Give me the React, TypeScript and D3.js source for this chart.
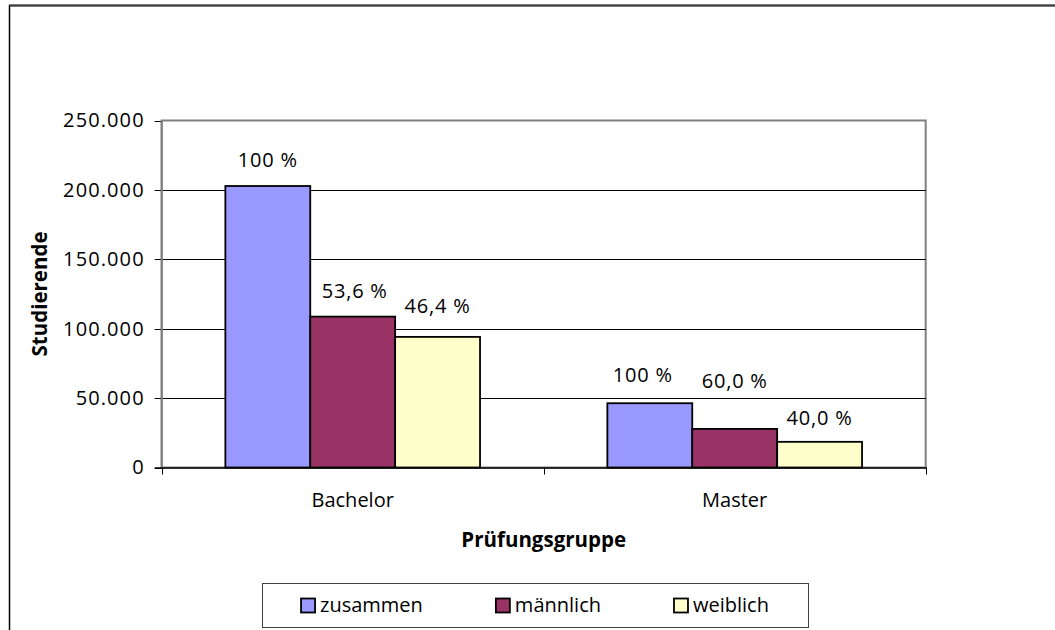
import React, { useEffect, useRef } from "react";
import * as d3 from "d3";

const categories = ["Bachelor", "Master"];
const seriesNames = ["zusammen", "männlich", "weiblich"];
const zusammen = [202800, 46300];
const maennlich = [108700, 27800];
const weiblich = [94100, 18500];
const labelsZusammen = ["100 %", "100 %"];
const labelsMaennlich = ["53,6 %", "60,0 %"];
const labelsWeiblich = ["46,4 %", "40,0 %"];
const yTicks = [0, 50000, 100000, 150000, 200000, 250000];
const seriesColors = ["#9999FF", "#993366", "#FFFFCC"];
const yTitle = "Studierende";
const xTitle = "Prüfungsgruppe";

// label nudges (dx, extra lift) per series per category, mimicking manual placement
const labelNudge = [
  [[0, 0], [-7, 2]],
  [[2, 0], [0, 22]],
  [[0, 5], [0, -2]],
];

const W = 1055;
const H = 630;
const FONT = "'Open Sans', 'Noto Sans', sans-serif";

export default function App() {
  const ref = useRef<SVGSVGElement | null>(null);

  useEffect(() => {
    const svg = d3.select(ref.current);
    svg.selectAll("*").remove();

    const left = 161.7, right = 925.7, top = 120.5, bottom = 467.5;
    const values = [zusammen, maennlich, weiblich];
    const labels = [labelsZusammen, labelsMaennlich, labelsWeiblich];

    const x0 = d3.scaleBand<string>().domain(categories).range([left, right]).padding(0);
    const x1 = d3
      .scaleBand<string>()
      .domain(seriesNames)
      .range([0, x0.bandwidth()])
      .paddingInner(0)
      .paddingOuter(0.75);
    const y = d3.scaleLinear().domain([0, 250000]).range([bottom, top]);

    const de = d3.formatLocale({
      decimal: ",",
      thousands: ".",
      grouping: [3],
      currency: ["", " €"],
    });
    const fmt = de.format(",.0f");

    // outer chart frame (extends past the picture on right and bottom)
    svg
      .append("rect")
      .attr("x", 9.5)
      .attr("y", 5.5)
      .attr("width", 1200)
      .attr("height", 800)
      .attr("fill", "white")
      .attr("stroke", "#000")
      .attr("stroke-width", 1.5);
    svg
      .append("line")
      .attr("x1", 9.5)
      .attr("x2", W)
      .attr("y1", 5.5)
      .attr("y2", 5.5)
      .attr("stroke", "#3c3c3c")
      .attr("stroke-width", 2);

    // plot area
    svg
      .append("rect")
      .attr("x", left)
      .attr("y", top)
      .attr("width", right - left)
      .attr("height", bottom - top)
      .attr("fill", "white")
      .attr("stroke", "#808080")
      .attr("stroke-width", 2);

    // gridlines
    svg
      .append("g")
      .selectAll("line")
      .data(yTicks.filter((t) => t > 0 && t < 250000))
      .join("line")
      .attr("x1", left)
      .attr("x2", right)
      .attr("y1", (d) => Math.round(y(d)) + 0.5)
      .attr("y2", (d) => Math.round(y(d)) + 0.5)
      .attr("stroke", "#000")
      .attr("stroke-width", 1);

    // y axis ticks + labels
    const yg = svg.append("g");
    yg.selectAll("line")
      .data(yTicks)
      .join("line")
      .attr("x1", left - 7)
      .attr("x2", left)
      .attr("y1", (d) => Math.round(y(d)) + 0.5)
      .attr("y2", (d) => Math.round(y(d)) + 0.5)
      .attr("stroke", "#000")
      .attr("stroke-width", 1);
    yg.selectAll("text")
      .data(yTicks)
      .join("text")
      .attr("x", left - 17)
      .attr("y", (d) => y(d))
      .attr("dy", "0.34em")
      .attr("text-anchor", "end")
      .attr("font-family", FONT)
      .attr("font-size", 20)
      .attr("letter-spacing", 1.1)
      .attr("fill", "#000")
      .text((d) => fmt(d));

    // bars
    seriesNames.forEach((s, si) => {
      const g = svg.append("g");
      g.selectAll("rect")
        .data(categories)
        .join("rect")
        .attr("x", (c) => (x0(c) as number) + (x1(s) as number))
        .attr("y", (c, i) => y(values[si][i]))
        .attr("width", x1.bandwidth())
        .attr("height", (c, i) => bottom - y(values[si][i]))
        .attr("fill", seriesColors[si])
        .attr("stroke", "#000")
        .attr("stroke-width", 1.8);
    });

    // axis lines
    svg
      .append("line")
      .attr("x1", left)
      .attr("x2", left)
      .attr("y1", top)
      .attr("y2", bottom)
      .attr("stroke", "#808080")
      .attr("stroke-width", 2);
    svg
      .append("line")
      .attr("x1", left - 7)
      .attr("x2", right + 1)
      .attr("y1", bottom + 0.5)
      .attr("y2", bottom + 0.5)
      .attr("stroke", "#000")
      .attr("stroke-width", 1.5);

    // x axis ticks at category boundaries
    const bounds = [left, ...categories.map((c) => (x0(c) as number) + x0.bandwidth())];
    svg
      .append("g")
      .selectAll("line")
      .data(bounds)
      .join("line")
      .attr("x1", (d) => Math.round(d) + 0.5)
      .attr("x2", (d) => Math.round(d) + 0.5)
      .attr("y1", bottom)
      .attr("y2", bottom + 7)
      .attr("stroke", "#000")
      .attr("stroke-width", 1);

    // category labels
    svg
      .append("g")
      .selectAll("text")
      .data(categories)
      .join("text")
      .attr("x", (c) => (x0(c) as number) + x0.bandwidth() / 2)
      .attr("y", bottom + 39)
      .attr("text-anchor", "middle")
      .attr("font-family", FONT)
      .attr("font-size", 20)
      .attr("fill", "#000")
      .text((c) => c);

    // data labels
    seriesNames.forEach((s, si) => {
      svg
        .append("g")
        .selectAll("text")
        .data(categories)
        .join("text")
        .attr(
          "x",
          (c, i) =>
            (x0(c) as number) + (x1(s) as number) + x1.bandwidth() / 2 + labelNudge[si][i][0]
        )
        .attr("y", (c, i) => y(values[si][i]) - 19 - labelNudge[si][i][1])
        .attr("text-anchor", "middle")
        .attr("font-family", FONT)
        .attr("font-size", 20)
        .attr("letter-spacing", 0.8)
        .attr("fill", "#000")
        .text((c, i) => labels[si][i]);
    });

    // axis titles
    svg
      .append("text")
      .attr("transform", `translate(46.5, ${(top + bottom) / 2}) rotate(-90)`)
      .attr("text-anchor", "middle")
      .attr("font-family", FONT)
      .attr("font-size", 20.5)
      .attr("font-weight", "bold")
      .attr("fill", "#000")
      .text(yTitle);
    svg
      .append("text")
      .attr("x", (left + right) / 2)
      .attr("y", 547)
      .attr("text-anchor", "middle")
      .attr("font-family", FONT)
      .attr("font-size", 20.5)
      .attr("font-weight", "bold")
      .attr("fill", "#000")
      .text(xTitle);

    // legend
    const lgLeft = 262, lgRight = 808, lgTop = 583.5, lgBottom = 627.5;
    svg
      .append("rect")
      .attr("x", lgLeft + 0.5)
      .attr("y", lgTop)
      .attr("width", lgRight - lgLeft)
      .attr("height", lgBottom - lgTop)
      .attr("fill", "white")
      .attr("stroke", "#404040")
      .attr("stroke-width", 1);
    const cy = (lgTop + lgBottom) / 2;
    const sw = 14, gapText = 5, itemGap = 73;
    const items = seriesNames.map((s, i) => {
      const g = svg.append("g");
      g.append("rect")
        .attr("x", 0)
        .attr("y", cy - sw / 2)
        .attr("width", sw)
        .attr("height", sw)
        .attr("fill", seriesColors[i])
        .attr("stroke", "#000")
        .attr("stroke-width", 1.8);
      const t = g
        .append("text")
        .attr("x", sw + gapText)
        .attr("y", cy)
        .attr("dy", "0.34em")
        .attr("font-family", FONT)
        .attr("font-size", 20)
        .attr("fill", "#000")
        .text(s);
      const tw = (t.node() as SVGTextElement).getComputedTextLength();
      return { g, w: sw + gapText + tw };
    });
    const total = d3.sum(items, (d) => d.w) + itemGap * (items.length - 1);
    let cx = lgLeft + (lgRight - lgLeft - total) / 2;
    items.forEach((it) => {
      it.g.attr("transform", `translate(${cx},0)`);
      cx += it.w + itemGap;
    });
  }, []);

  return (
    <svg
      ref={ref}
      width={W}
      height={H}
      style={{ position: "absolute", left: 0, top: 0, display: "block", background: "white" }}
    />
  );
}
